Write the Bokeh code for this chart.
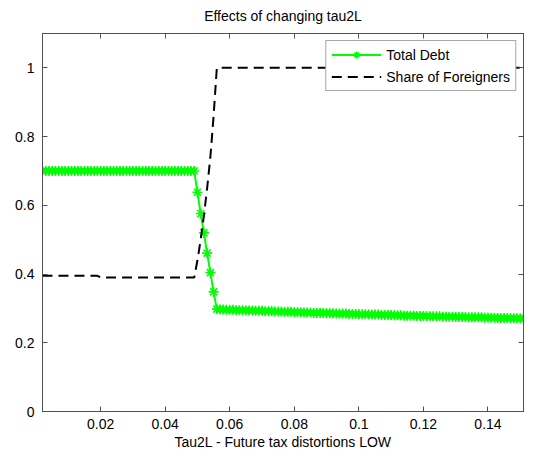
from bokeh.plotting import figure
from bokeh.models import FixedTicker, LinearAxis, Range1d, Legend, LegendItem
from bokeh.embed import file_html
from bokeh.resources import INLINE

# ---- data ----
tau2L = [
    0.002, 0.003, 0.004, 0.005, 0.006, 0.007, 0.008, 0.009, 0.010, 0.011,
    0.012, 0.013, 0.014, 0.015, 0.016, 0.017, 0.018, 0.019, 0.020, 0.021,
    0.022, 0.023, 0.024, 0.025, 0.026, 0.027, 0.028, 0.029, 0.030, 0.031,
    0.032, 0.033, 0.034, 0.035, 0.036, 0.037, 0.038, 0.039, 0.040, 0.041,
    0.042, 0.043, 0.044, 0.045, 0.046, 0.047, 0.048, 0.049, 0.050, 0.051,
    0.052, 0.053, 0.054, 0.055, 0.056, 0.057, 0.058, 0.059, 0.060, 0.061,
    0.062, 0.063, 0.064, 0.065, 0.066, 0.067, 0.068, 0.069, 0.070, 0.071,
    0.072, 0.073, 0.074, 0.075, 0.076, 0.077, 0.078, 0.079, 0.080, 0.081,
    0.082, 0.083, 0.084, 0.085, 0.086, 0.087, 0.088, 0.089, 0.090, 0.091,
    0.092, 0.093, 0.094, 0.095, 0.096, 0.097, 0.098, 0.099, 0.100, 0.101,
    0.102, 0.103, 0.104, 0.105, 0.106, 0.107, 0.108, 0.109, 0.110, 0.111,
    0.112, 0.113, 0.114, 0.115, 0.116, 0.117, 0.118, 0.119, 0.120, 0.121,
    0.122, 0.123, 0.124, 0.125, 0.126, 0.127, 0.128, 0.129, 0.130, 0.131,
    0.132, 0.133, 0.134, 0.135, 0.136, 0.137, 0.138, 0.139, 0.140, 0.141,
    0.142, 0.143, 0.144, 0.145, 0.146, 0.147, 0.148, 0.149, 0.150, 0.151,
]

total_debt = [
    0.700, 0.700, 0.700, 0.700, 0.700, 0.700, 0.700, 0.700, 0.700, 0.700,
    0.700, 0.700, 0.700, 0.700, 0.700, 0.700, 0.700, 0.700, 0.700, 0.700,
    0.700, 0.700, 0.700, 0.700, 0.700, 0.700, 0.700, 0.700, 0.700, 0.700,
    0.700, 0.700, 0.700, 0.700, 0.700, 0.700, 0.700, 0.700, 0.700, 0.700,
    0.700, 0.700, 0.700, 0.700, 0.700, 0.700, 0.700, 0.700, 0.638, 0.576,
    0.520, 0.461, 0.404, 0.348, 0.298, 0.297, 0.297, 0.296, 0.296, 0.296,
    0.295, 0.295, 0.295, 0.294, 0.294, 0.294, 0.293, 0.293, 0.293, 0.292,
    0.292, 0.292, 0.291, 0.291, 0.291, 0.290, 0.290, 0.290, 0.289, 0.289,
    0.289, 0.288, 0.288, 0.288, 0.287, 0.287, 0.287, 0.287, 0.286, 0.286,
    0.286, 0.285, 0.285, 0.285, 0.285, 0.284, 0.284, 0.284, 0.283, 0.283,
    0.283, 0.283, 0.282, 0.282, 0.282, 0.281, 0.281, 0.281, 0.281, 0.280,
    0.280, 0.280, 0.279, 0.279, 0.279, 0.279, 0.278, 0.278, 0.278, 0.278,
    0.277, 0.277, 0.277, 0.277, 0.276, 0.276, 0.276, 0.276, 0.275, 0.275,
    0.275, 0.275, 0.274, 0.274, 0.274, 0.274, 0.274, 0.273, 0.273, 0.273,
    0.273, 0.272, 0.272, 0.272, 0.272, 0.272, 0.271, 0.271, 0.271, 0.271,
]

share_foreigners = [
    0.395, 0.395, 0.395, 0.395, 0.395, 0.395, 0.395, 0.395, 0.395, 0.395,
    0.395, 0.395, 0.395, 0.395, 0.395, 0.395, 0.395, 0.395, 0.390, 0.390,
    0.390, 0.390, 0.390, 0.390, 0.390, 0.390, 0.390, 0.390, 0.390, 0.390,
    0.390, 0.390, 0.390, 0.390, 0.390, 0.390, 0.390, 0.390, 0.390, 0.390,
    0.390, 0.390, 0.390, 0.390, 0.390, 0.390, 0.390, 0.390, 0.440, 0.500,
    0.570, 0.650, 0.740, 0.860, 1.000, 1.000, 1.000, 1.000, 1.000, 1.000,
    1.000, 1.000, 1.000, 1.000, 1.000, 1.000, 1.000, 1.000, 1.000, 1.000,
    1.000, 1.000, 1.000, 1.000, 1.000, 1.000, 1.000, 1.000, 1.000, 1.000,
    1.000, 1.000, 1.000, 1.000, 1.000, 1.000, 1.000, 1.000, 1.000, 1.000,
    1.000, 1.000, 1.000, 1.000, 1.000, 1.000, 1.000, 1.000, 1.000, 1.000,
    1.000, 1.000, 1.000, 1.000, 1.000, 1.000, 1.000, 1.000, 1.000, 1.000,
    1.000, 1.000, 1.000, 1.000, 1.000, 1.000, 1.000, 1.000, 1.000, 1.000,
    1.000, 1.000, 1.000, 1.000, 1.000, 1.000, 1.000, 1.000, 1.000, 1.000,
    1.000, 1.000, 1.000, 1.000, 1.000, 1.000, 1.000, 1.000, 1.000, 1.000,
    1.000, 1.000, 1.000, 1.000, 1.000, 1.000, 1.000, 1.000, 1.000, 1.000,
]

x_ticks = [0.02, 0.04, 0.06, 0.08, 0.10, 0.12, 0.14]
x_tick_labels = ["0.02", "0.04", "0.06", "0.08", "0.1", "0.12", "0.14"]
y_ticks = [0.0, 0.2, 0.4, 0.6, 0.8, 1.0]
y_tick_labels = ["0", "0.2", "0.4", "0.6", "0.8", "1"]

title_text = "Effects of changing tau2L"
x_label = "Tau2L - Future tax distortions LOW"
series_names = ["Total Debt", "Share of Foreigners"]

FONT = "Liberation Sans"
FS = "14px"
AXC = "#505050"

p = figure(width=524, height=453, output_backend="svg", toolbar_location=None,
           x_range=Range1d(0.002, 0.151), y_range=Range1d(0, 1.1),
           min_border_left=42, min_border_right=1, min_border_top=0,
           min_border_bottom=42)

p.title.text = title_text
p.title.align = "center"
p.title.vertical_align = "top"
p.title.text_font = FONT
p.title.text_font_size = FS
p.title.text_font_style = "normal"
p.title.text_color = "black"
p.title.standoff = 15

p.xgrid.visible = False
p.ygrid.visible = False
p.outline_line_color = AXC
p.background_fill_color = "white"
p.border_fill_color = "white"

r_debt_line = p.line(tau2L, total_debt, line_color="#00ff00", line_width=2)
r_debt_mark = p.scatter(tau2L, total_debt, marker="asterisk", size=10,
                        line_color="#00ff00", line_width=1.6)
r_share = p.line(tau2L, share_foreigners, line_color="black", line_width=2,
                 line_dash="10 6")

def style_axis(ax, show_labels):
    ax.major_tick_in = 5
    ax.major_tick_out = 0
    ax.minor_tick_line_color = None
    ax.axis_line_color = AXC
    ax.major_tick_line_color = AXC
    ax.major_label_text_font = FONT
    if show_labels:
        ax.major_label_text_font_size = FS
        ax.major_label_text_color = "black"
    else:
        ax.major_label_text_font_size = "1px"
        ax.major_label_text_color = None
        ax.major_label_standoff = 0
    ax.axis_label_text_font = FONT
    ax.axis_label_text_font_size = FS
    ax.axis_label_text_font_style = "normal"
    ax.axis_label_text_color = "black"

xa = p.xaxis[0]
xa.ticker = FixedTicker(ticks=x_ticks)
xa.major_label_overrides = {t: l for t, l in zip(x_ticks, x_tick_labels)}
style_axis(xa, True)
xa.major_label_standoff = 7
xa.axis_label = x_label
xa.axis_label_standoff = 2

ya = p.yaxis[0]
ya.ticker = FixedTicker(ticks=y_ticks)
ya.major_label_overrides = {t: l for t, l in zip(y_ticks, y_tick_labels)}
style_axis(ya, True)
ya.major_label_standoff = 8

top_ax = LinearAxis(ticker=FixedTicker(ticks=x_ticks))
style_axis(top_ax, False)
p.add_layout(top_ax, "above")

right_ax = LinearAxis(ticker=FixedTicker(ticks=y_ticks))
style_axis(right_ax, False)
p.add_layout(right_ax, "right")

legend = Legend(items=[
    LegendItem(label=series_names[0], renderers=[r_debt_line, r_debt_mark]),
    LegendItem(label=series_names[1], renderers=[r_share]),
], location="top_right")
legend.margin = 7
legend.padding = 5
legend.spacing = 5
legend.glyph_width = 50
legend.glyph_height = 17
legend.label_height = 17
legend.label_standoff = 5
legend.label_text_font = FONT
legend.label_text_font_size = FS
legend.label_text_color = "black"
legend.border_line_color = AXC
legend.border_line_width = 1
legend.background_fill_color = "white"
legend.background_fill_alpha = 1.0
p.add_layout(legend, "center")

open("out.html", "w").write(file_html(p, INLINE))
